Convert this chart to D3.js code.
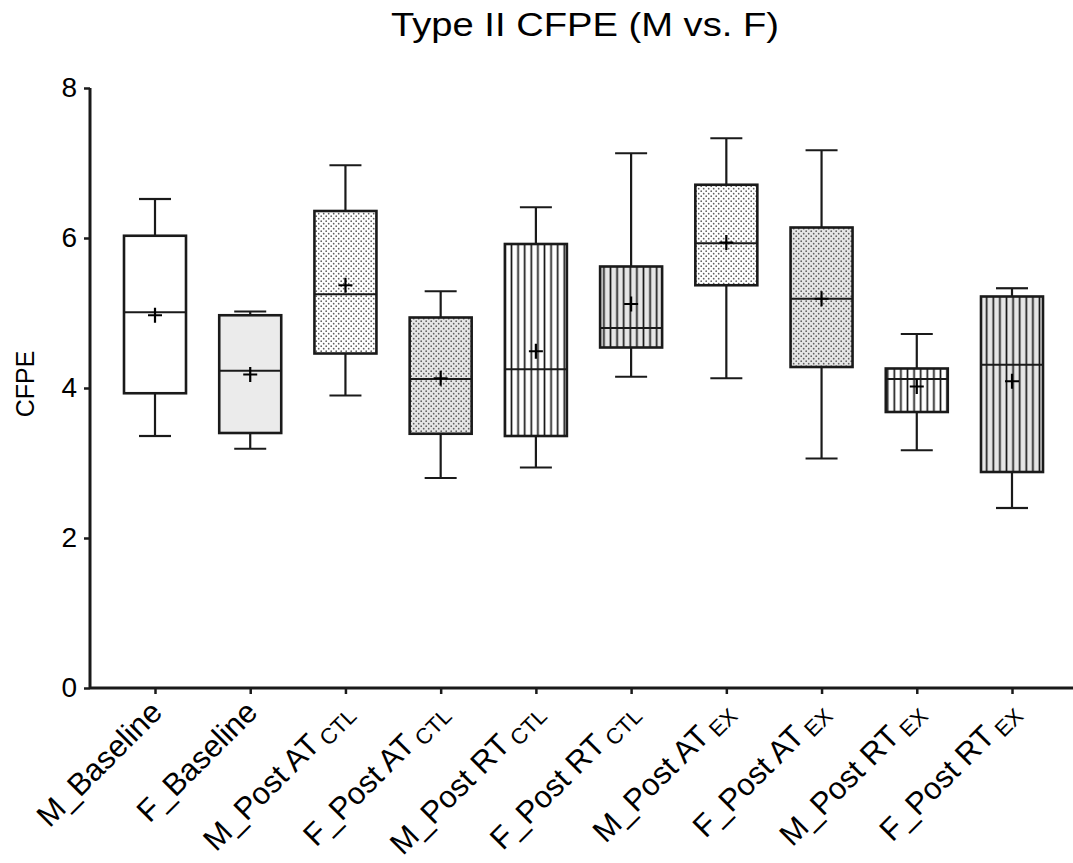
<!DOCTYPE html>
<html>
<head>
<meta charset="utf-8">
<title>Type II CFPE (M vs. F)</title>
<style>
body { margin: 0; background: #fff; }
* { font-family: "Liberation Sans", Arial, sans-serif; }
</style>
<script src="https://cdn.jsdelivr.net/npm/d3@7"></script>
</head>
<body>
<div id="chart"></div>
<script>
// Box plot values (whiskers = min/max, + = mean)
var categories  = ["M_Baseline", "F_Baseline", "M_Post AT", "F_Post AT", "M_Post RT",
                   "F_Post RT", "M_Post AT", "F_Post AT", "M_Post RT", "F_Post RT"];
var subscripts  = ["", "", "CTL", "CTL", "CTL", "CTL", "EX", "EX", "EX", "EX"];
var whiskerLow  = [3.36, 3.19, 3.90, 2.80, 2.94, 4.15, 4.13, 3.06, 3.17, 2.40];
var q1          = [3.93, 3.40, 4.46, 3.39, 3.36, 4.54, 5.37, 4.28, 3.68, 2.88];
var medians     = [5.01, 4.23, 5.25, 4.12, 4.25, 4.80, 5.93, 5.19, 4.12, 4.31];
var q3          = [6.03, 4.97, 6.36, 4.94, 5.92, 5.62, 6.71, 6.14, 4.26, 5.22];
var whiskerHigh = [6.52, 5.02, 6.97, 5.29, 6.41, 7.13, 7.33, 7.17, 4.72, 5.33];
var means       = [4.97, 4.18, 5.37, 4.13, 4.49, 5.12, 5.94, 5.19, 4.02, 4.09];
var fills       = ["white", "gray", "dots", "grayDots", "lines", "grayLines",
                   "dots", "grayDots", "lines", "grayLines"];
var yTicks      = [0, 2, 4, 6, 8];

var width = 1073, height = 863;
var boxW = 62, capW = 32;
var ink = "#1a1a1a";

var svg = d3.select("#chart").append("svg")
    .attr("width", width)
    .attr("height", height);

// fill patterns
var defs = svg.append("defs");
function dotPattern(id, bg) {
    var p = defs.append("pattern").attr("id", id)
        .attr("patternUnits", "userSpaceOnUse").attr("width", 5).attr("height", 5);
    p.append("rect").attr("width", 5).attr("height", 5).attr("fill", bg);
    p.append("circle").attr("cx", 1.2).attr("cy", 1.2).attr("r", 0.85).attr("fill", "#5e5e5e");
    p.append("circle").attr("cx", 3.7).attr("cy", 3.7).attr("r", 0.85).attr("fill", "#5e5e5e");
}
function linePattern(id, bg) {
    var p = defs.append("pattern").attr("id", id)
        .attr("patternUnits", "userSpaceOnUse").attr("width", 6.6).attr("height", 10);
    p.append("rect").attr("width", 6.6).attr("height", 10).attr("fill", bg);
    p.append("line").attr("x1", 3.3).attr("x2", 3.3).attr("y1", 0).attr("y2", 10)
        .attr("stroke", ink).attr("stroke-width", 1.7);
}
dotPattern("dots", "#ffffff");
dotPattern("grayDots", "#e6e6e6");
linePattern("lines", "#ffffff");
linePattern("grayLines", "#e6e6e6");

function fillFor(f) {
    if (f === "white") return "#ffffff";
    if (f === "gray") return "#ebebeb";
    return "url(#" + f + ")";
}

var idx = d3.range(categories.length);
var x = d3.scalePoint().domain(idx).range([155, 1012]);
var y = d3.scaleLinear().domain([0, 8]).range([688, 88]);

// title
svg.append("text")
    .attr("x", 585).attr("y", 36)
    .attr("text-anchor", "middle")
    .attr("font-size", 34)
    .attr("fill", "#000")
    .attr("textLength", 388)
    .attr("lengthAdjust", "spacingAndGlyphs")
    .text("Type II CFPE (M vs. F)");

// y axis title
svg.append("text")
    .attr("transform", "translate(34,384) rotate(-90)")
    .attr("text-anchor", "middle")
    .attr("font-size", 25)
    .attr("fill", "#000")
    .text("CFPE");

// y axis
var yAxis = svg.append("g")
    .attr("transform", "translate(90,0)")
    .call(d3.axisLeft(y).tickValues(yTicks).tickSize(6).tickPadding(7).tickFormat(d3.format("d")));
yAxis.select(".domain").attr("stroke", ink).attr("stroke-width", 3).attr("d", "M0," + y(8) + "V" + y(0));
yAxis.selectAll(".tick line").attr("stroke", ink).attr("stroke-width", 2.5);
yAxis.selectAll(".tick text").attr("font-size", 28).attr("fill", "#000")
    .attr("font-family", "'Liberation Sans', Arial, sans-serif");

// x axis
var xAxis = svg.append("g")
    .attr("transform", "translate(0," + y(0) + ")")
    .call(d3.axisBottom(x).tickSize(6).tickFormat(""));
xAxis.select(".domain").attr("stroke", ink).attr("stroke-width", 3).attr("d", "M90,0H1073");
xAxis.selectAll(".tick line").attr("stroke", ink).attr("stroke-width", 2.5);

// x labels, rotated
var labels = svg.append("g").selectAll("text")
    .data(idx)
    .enter()
    .append("text")
        .attr("transform", function(d) { return "translate(" + (x(d) + 9) + ",714) rotate(-45)"; })
        .attr("text-anchor", "end")
        .attr("font-size", 31)
        .attr("fill", "#000");
labels.append("tspan").text(function(d) { return categories[d]; });
labels.filter(function(d) { return subscripts[d] !== ""; })
    .append("tspan")
        .attr("font-size", 22)
        .attr("dx", 5)
        .attr("dy", 5)
        .text(function(d) { return subscripts[d]; });

// boxes
var boxes = svg.append("g").selectAll("g")
    .data(idx)
    .enter()
    .append("g");

boxes.append("line")
    .attr("x1", function(d) { return x(d); })
    .attr("x2", function(d) { return x(d); })
    .attr("y1", function(d) { return y(whiskerLow[d]); })
    .attr("y2", function(d) { return y(q1[d]); })
    .attr("stroke", ink).attr("stroke-width", 2.2);
boxes.append("line")
    .attr("x1", function(d) { return x(d); })
    .attr("x2", function(d) { return x(d); })
    .attr("y1", function(d) { return y(q3[d]); })
    .attr("y2", function(d) { return y(whiskerHigh[d]); })
    .attr("stroke", ink).attr("stroke-width", 2.2);
boxes.append("line")
    .attr("x1", function(d) { return x(d) - capW / 2; })
    .attr("x2", function(d) { return x(d) + capW / 2; })
    .attr("y1", function(d) { return y(whiskerLow[d]); })
    .attr("y2", function(d) { return y(whiskerLow[d]); })
    .attr("stroke", ink).attr("stroke-width", 2.2);
boxes.append("line")
    .attr("x1", function(d) { return x(d) - capW / 2; })
    .attr("x2", function(d) { return x(d) + capW / 2; })
    .attr("y1", function(d) { return y(whiskerHigh[d]); })
    .attr("y2", function(d) { return y(whiskerHigh[d]); })
    .attr("stroke", ink).attr("stroke-width", 2.2);

boxes.append("rect")
    .attr("x", function(d) { return x(d) - boxW / 2; })
    .attr("y", function(d) { return y(q3[d]); })
    .attr("width", boxW)
    .attr("height", function(d) { return y(q1[d]) - y(q3[d]); })
    .attr("fill", function(d) { return fillFor(fills[d]); })
    .attr("stroke", ink).attr("stroke-width", 2.6);

boxes.append("line")
    .attr("x1", function(d) { return x(d) - boxW / 2; })
    .attr("x2", function(d) { return x(d) + boxW / 2; })
    .attr("y1", function(d) { return y(medians[d]); })
    .attr("y2", function(d) { return y(medians[d]); })
    .attr("stroke", ink).attr("stroke-width", 2.2);

// mean markers (+)
boxes.append("path")
    .attr("d", function(d) {
        var cx = x(d), cy = y(means[d]);
        return "M" + (cx - 7) + "," + cy + "H" + (cx + 7) + "M" + cx + "," + (cy - 7.5) + "V" + (cy + 7.5);
    })
    .attr("stroke", "#000").attr("stroke-width", 2.2).attr("fill", "none");
</script>
</body>
</html>
